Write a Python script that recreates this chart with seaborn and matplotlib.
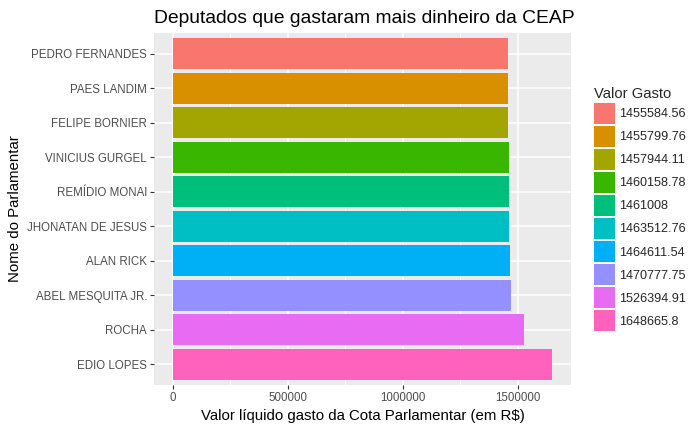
import seaborn as sns
import matplotlib.pyplot as plt
import pandas as pd

nomes = ["PEDRO FERNANDES", "PAES LANDIM", "FELIPE BORNIER", "VINICIUS GURGEL",
         "REMÍDIO MONAI", "JHONATAN DE JESUS", "ALAN RICK", "ABEL MESQUITA JR.",
         "ROCHA", "EDIO LOPES"]
valores = [1455584.56, 1455799.76, 1457944.11, 1460158.78, 1461008,
           1463512.76, 1464611.54, 1470777.75, 1526394.91, 1648665.8]
rotulos = ["1455584.56", "1455799.76", "1457944.11", "1460158.78", "1461008",
           "1463512.76", "1464611.54", "1470777.75", "1526394.91", "1648665.8"]
cores = ["#F8766D", "#D89000", "#A3A500", "#39B600", "#00BF7D",
         "#00BFC4", "#00B0F6", "#9590FF", "#E76BF3", "#FF62BC"]

df = pd.DataFrame({"Nome": nomes, "Valor": valores, "Valor Gasto": rotulos})

sns.set_style("darkgrid", {"axes.facecolor": "#EBEBEB", "grid.color": "white"})
plt.rcParams["font.family"] = ["Liberation Sans", "DejaVu Sans"]

fig = plt.figure(figsize=(7, 4.32), dpi=100)
ax = fig.add_axes([0.22, 0.1088, 0.5957, 0.8148])

sns.barplot(data=df, x="Valor", y="Nome", hue="Valor Gasto", palette=cores,
            order=nomes, hue_order=rotulos, width=0.9, dodge=False,
            saturation=1, linewidth=0, ax=ax)

ax.set_xlim(-82433, 1731099)
ax.set_ylim(9.6, -0.6)
ax.set_xticks([0, 500000, 1000000, 1500000])
ax.set_xticklabels(["0", "500000", "1000000", "1500000"])
ax.set_xticks([250000, 750000, 1250000], minor=True)
ax.grid(True, which="major", color="white", linewidth=1.1)
ax.grid(True, which="minor", axis="x", color="white", linewidth=0.55)
ax.set_axisbelow(True)
for s in ax.spines.values():
    s.set_visible(False)
ax.tick_params(axis="both", which="major", length=3, width=0.8, color="#333333",
               labelsize=8.3, labelcolor="#4D4D4D", pad=2, direction="out")
ax.tick_params(axis="both", which="minor", length=0)
ax.xaxis.set_tick_params(bottom=True)
ax.yaxis.set_tick_params(left=True)

ax.set_xlabel("Valor líquido gasto da Cota Parlamentar (em R$)", fontsize=10.8, color="black")
ax.set_ylabel("Nome do Parlamentar", fontsize=10.8, color="black")
ax.set_title("Deputados que gastaram mais dinheiro da CEAP", fontsize=13.9,
             color="black", pad=7, loc="left")

sns.move_legend(ax, "center left", bbox_to_anchor=(1.043, 0.5), frameon=False,
                title="Valor Gasto", fontsize=9.1, title_fontsize=10.6,
                handlelength=1.66, handleheight=2.18, labelspacing=0.16,
                handletextpad=0.32, borderaxespad=0, borderpad=0.4,
                alignment="left")

fig.savefig("out.png", dpi=100)
